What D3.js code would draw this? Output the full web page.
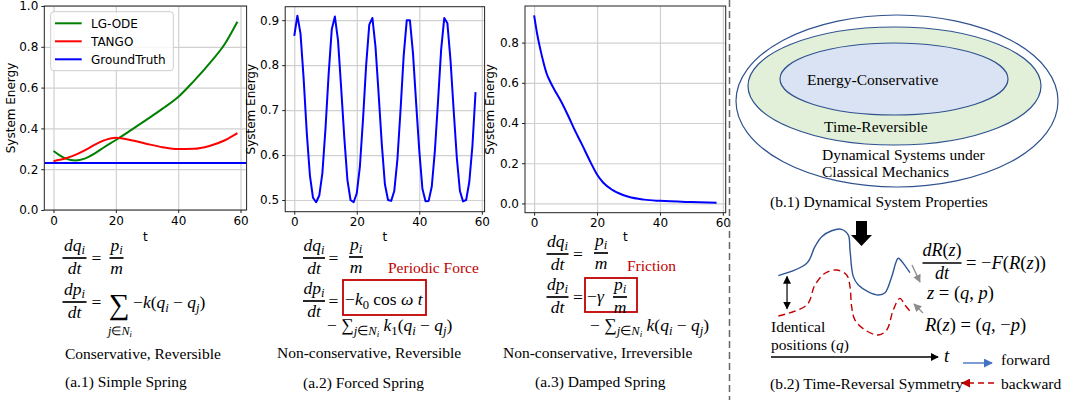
<!DOCTYPE html>
<html lang="en">
<head>
<meta charset="UTF-8">
<title>System energy and time reversal</title>
<script src="https://d3js.org/d3.v7.min.js"></script>
<style>
  body { margin: 0; background: #fff; }
  .tick text { font-family: "DejaVu Sans", sans-serif; font-size: 12px; fill: #000; }
  .tick line { stroke: #222; }
  .grid line { stroke: #d0d0d0; stroke-width: 1.2px; }
  .grid .domain, .axis .domain { display: none; }
  .serif { font-family: "Liberation Serif", "Times New Roman", serif; font-size: 15.5px; }
  .math { font-family: "Liberation Serif", "Times New Roman", serif; white-space: pre; }
  .sans { font-family: "DejaVu Sans", sans-serif; font-size: 12px; }
</style>
</head>
<body>
<svg id="fig" width="1065" height="400"></svg>
<script>
// ---- data ----
const xTicks = [0, 20, 40, 60];

// (a.1) simple spring
const timeA1 = [0, 2, 4, 7, 10, 13, 16, 20, 25, 30, 35, 40, 45, 50, 55, 59];
const energyLgOde = [0.289, 0.268, 0.252, 0.243, 0.252, 0.275, 0.305, 0.343, 0.393, 0.444, 0.497, 0.554, 0.632, 0.718, 0.815, 0.923];
const energyTango = [0.239, 0.246, 0.254, 0.270, 0.292, 0.318, 0.340, 0.354, 0.342, 0.324, 0.308, 0.299, 0.300, 0.314, 0.342, 0.377];
const energyGroundTruth = 0.23;
const yTicksA1 = [0, 0.2, 0.4, 0.6, 0.8, 1.0];
const legendLabels = ['LG-ODE', 'TANGO', 'GroundTruth'];
const legendColors = ['#008000', '#ff0000', '#0000ff'];

// (a.2) forced spring, one value per step
const timeA2 = d3.range(59);
const energyForced = [
  0.865, 0.910, 0.870, 0.770, 0.650, 0.555, 0.505, 0.495, 0.510, 0.560,
  0.660, 0.780, 0.880, 0.908, 0.855, 0.750, 0.640, 0.545, 0.500, 0.495,
  0.515, 0.575, 0.680, 0.800, 0.890, 0.905, 0.840, 0.735, 0.625, 0.535,
  0.500, 0.498, 0.520, 0.590, 0.700, 0.820, 0.900, 0.900, 0.825, 0.715,
  0.610, 0.525, 0.497, 0.498, 0.530, 0.610, 0.720, 0.835, 0.905, 0.893,
  0.810, 0.700, 0.595, 0.520, 0.497, 0.500, 0.540, 0.620, 0.740];
const yTicksA2 = [0.5, 0.6, 0.7, 0.8, 0.9];

// (a.3) damped spring
const timeA3 = [0, 1, 2, 3, 4, 5, 7, 9, 11, 13, 15, 18, 20, 22, 25, 30, 35, 40, 50, 58];
const energyDamped = [0.935, 0.840, 0.765, 0.700, 0.645, 0.609, 0.551, 0.495, 0.430, 0.362, 0.300, 0.203, 0.144, 0.103, 0.066, 0.033, 0.019, 0.013, 0.007, 0.004];
const yTicksA3 = [0, 0.2, 0.4, 0.6, 0.8];

// (b.2) sketch of a trajectory and its time reversal, [t, q] in sketch units
const forwardPath = [[4.4, 58.1], [21.4, 66.9], [26.3, 78.8], [30.4, 85.9], [36.3, 90.2], [42.3, 91.2], [46.3, 87.1], [47.3, 76.4], [49.3, 57.4], [52.3, 51.4], [58.3, 46.6], [64.3, 44.3], [68.3, 45.9], [72.3, 57.4], [76.2, 70.5], [79.2, 66.9], [83.2, 60.2]];
const backwardPath = [[4.4, 29.3], [21.4, 37.1], [26.3, 51.4], [32.3, 59.8], [39.3, 62.1], [45.3, 58.6], [47.3, 50.2], [48.3, 35.9], [50.3, 26.4], [56.3, 19.3], [64.3, 15.7], [69.3, 19.3], [73.2, 33.6], [77.2, 41.9], [80.2, 37.1], [84.3, 31.2]];

const svg = d3.select('#fig');
const defs = svg.append('defs');

function marker(id, color, size) {
  defs.append('marker').attr('id', id)
    .attr('viewBox', '0 0 10 10').attr('refX', 9).attr('refY', 5)
    .attr('markerWidth', size).attr('markerHeight', size)
    .attr('markerUnits', 'userSpaceOnUse')
    .attr('orient', 'auto-start-reverse')
    .append('path').attr('d', 'M0,0 L10,5 L0,10 z').attr('fill', color);
}
marker('arBlack', '#000', 8);
marker('arGray', '#8c8c8c', 8);
marker('arBlue', '#4472c4', 9);
marker('arRed', '#c00000', 9);

// ---- matplotlib-like panel ----
function panel(p) {
  const x = d3.scaleLinear().domain(p.xDom).range([p.left, p.right]);
  const y = d3.scaleLinear().domain(p.yDom).range([p.bottom, p.top]);
  const g = svg.append('g');
  const h = p.bottom - p.top, w = p.right - p.left;

  g.append('g').attr('class', 'grid').attr('transform', `translate(0,${p.bottom})`)
    .call(d3.axisBottom(x).tickValues(xTicks).tickSize(-h).tickFormat(''));
  g.append('g').attr('class', 'grid').attr('transform', `translate(${p.left},0)`)
    .call(d3.axisLeft(y).tickValues(p.yTicks).tickSize(-w).tickFormat(''));

  const clipId = 'clip' + Math.round(p.left);
  defs.append('clipPath').attr('id', clipId).append('rect')
    .attr('x', p.left).attr('y', p.top).attr('width', w).attr('height', h);
  const plot = g.append('g').attr('clip-path', `url(#${clipId})`);

  g.append('rect').attr('x', p.left).attr('y', p.top).attr('width', w).attr('height', h)
    .attr('fill', 'none').attr('stroke', '#222').attr('stroke-width', 1);

  g.append('g').attr('class', 'axis').attr('transform', `translate(0,${p.bottom})`)
    .call(d3.axisBottom(x).tickValues(xTicks).tickSize(3).tickPadding(3).tickFormat(d3.format('d')));
  g.append('g').attr('class', 'axis').attr('transform', `translate(${p.left},0)`)
    .call(d3.axisLeft(y).tickValues(p.yTicks).tickSize(3).tickPadding(3).tickFormat(d3.format('.1f')));

  g.append('text').attr('class', 'sans')
    .attr('transform', `translate(${p.yLabelX},${(p.top + p.bottom) / 2}) rotate(-90)`)
    .attr('text-anchor', 'middle').text('System Energy');
  g.append('text').attr('class', 'sans').attr('x', (p.left + p.right) / 2).attr('y', 241)
    .attr('text-anchor', 'middle').text('t');
  return { x, y, plot };
}

function drawLine(pn, ts, vs, color, curve) {
  pn.plot.append('path')
    .datum(ts.map((t, i) => [t, vs[i]]))
    .attr('fill', 'none').attr('stroke', color).attr('stroke-width', 2)
    .attr('stroke-linejoin', 'round')
    .attr('d', d3.line().x(d => pn.x(d[0])).y(d => pn.y(d[1])).curve(curve));
}

// (a.1)
const pA1 = panel({ left: 44.3, right: 246.6, top: 6, bottom: 210, xDom: [-2.95, 61.95], yDom: [0, 1], yTicks: yTicksA1, yLabelX: 15 });
drawLine(pA1, timeA1, energyLgOde, legendColors[0], d3.curveMonotoneX);
drawLine(pA1, timeA1, energyTango, legendColors[1], d3.curveMonotoneX);
drawLine(pA1, pA1.x.domain(), [energyGroundTruth, energyGroundTruth], legendColors[2], d3.curveLinear);

const leg = svg.append('g');
leg.append('rect').attr('x', 50.7).attr('y', 11.7).attr('width', 122.6).attr('height', 59)
  .attr('rx', 3).attr('fill', '#fff').attr('fill-opacity', 0.8).attr('stroke', '#ccc');
legendLabels.forEach((lab, i) => {
  const ly = 23.3 + i * 18;
  leg.append('line').attr('x1', 55).attr('x2', 81.7).attr('y1', ly).attr('y2', ly)
    .attr('stroke', legendColors[i]).attr('stroke-width', 2);
  leg.append('text').attr('class', 'sans').attr('x', 91).attr('y', ly).attr('dy', '0.36em').text(lab);
});

// (a.2)
const pA2 = panel({ left: 285.2, right: 484.6, top: 6.7, bottom: 211.7, xDom: [-2.9, 60.9], yDom: [0.474, 0.930], yTicks: yTicksA2, yLabelX: 255 });
drawLine(pA2, timeA2, energyForced, '#0000ff', d3.curveLinear);

// (a.3)
const pA3 = panel({ left: 525, right: 725.7, top: 6, bottom: 212.7, xDom: [-2.9, 60.9], yDom: [-0.046, 0.982], yTicks: yTicksA3, yLabelX: 494 });
drawLine(pA3, timeA3, energyDamped, '#0000ff', d3.curveMonotoneX);

// divider
svg.append('line').attr('x1', 729.5).attr('x2', 729.5).attr('y1', 0).attr('y2', 400)
  .attr('stroke', '#666').attr('stroke-width', 1.5).attr('stroke-dasharray', '7,4');

// ---- math helpers ----
function runs(str, level) {
  const out = [];
  let i = 0;
  while (i < str.length) {
    const c = str[i];
    if (c === '_') {
      let sub;
      if (str[i + 1] === '{') { const j = str.indexOf('}', i); sub = str.slice(i + 2, j); i = j + 1; }
      else { sub = str[i + 1]; i += 2; }
      out.push(...runs(sub, level + 1));
    } else if (c === '[') {
      const j = str.indexOf(']', i);
      out.push({ t: str.slice(i + 1, j), it: false, lv: level }); i = j + 1;
    } else {
      out.push({ t: c, it: /[A-Za-zγω]/.test(c), lv: level }); i++;
    }
  }
  return out;
}

function math(x, y, str, fs, anchor, color, subShift) {
  const t = svg.append('text').attr('class', 'math').attr('x', x).attr('y', y)
    .attr('font-size', fs).attr('text-anchor', anchor || 'start').attr('fill', color || '#000');
  const s1 = subShift === undefined ? 0.22 : subShift;
  let cur = 0;
  runs(str, 0).forEach(r => {
    const shift = r.lv === 0 ? 0 : fs * s1 + (r.lv - 1) * fs * 0.14;
    t.append('tspan').text(r.t)
      .attr('font-style', r.it ? 'italic' : 'normal')
      .attr('font-size', fs * Math.pow(0.72, r.lv))
      .attr('dy', shift - cur);
    cur = shift;
  });
  return t;
}

// numerator sits a little higher with a shallow subscript so it clears the bar
function frac(cx, bar, w, num, den, fs) {
  math(cx, bar - 7, num, fs, 'middle', '#000', 0.17);
  svg.append('line').attr('x1', cx - w / 2).attr('x2', cx + w / 2).attr('y1', bar).attr('y2', bar)
    .attr('stroke', '#000').attr('stroke-width', 1.7);
  math(cx, bar + 15.5, den, fs, 'middle');
}

function label(x, y, str, color) {
  return svg.append('text').attr('class', 'serif').attr('x', x).attr('y', y).attr('fill', color || '#000').text(str);
}

function box(x0, y0, x1, y1) {
  svg.append('rect').attr('x', x0).attr('y', y0).attr('width', x1 - x0).attr('height', y1 - y0)
    .attr('fill', 'none').attr('stroke', '#c00000').attr('stroke-width', 1.8);
}

const FS = 17.5;

// (a.1) equations
frac(74.5, 258, 24, 'dq_i', 'dt', FS);
math(91.5, 264, '=', FS);
frac(116.5, 258, 14, 'p_i', 'm', FS);
frac(74.5, 302, 24, 'dp_i', 'dt', FS);
math(91.5, 308, '=', FS);
math(109, 314, '∑', 29);
math(120, 331, '_{j∈N_i}', 17, 'middle');
math(133, 308, '−k(q_i − q_j)', FS);
label(65, 359, 'Conservative, Reversible');
label(65, 387, '(a.1) Simple Spring');

// (a.2) equations
frac(314, 258, 22, 'dq_i', 'dt', FS);
math(328.5, 264, '=', FS);
frac(356, 257, 14, 'p_i', 'm', FS);
label(388, 273, 'Periodic Force', '#c00000');
frac(314, 301, 22, 'dp_i', 'dt', FS);
math(328.5, 307, '=', FS);
box(343, 280, 426, 315);
math(345, 305, '−k_0 [cos] ω t', FS);
math(327, 331, '− ∑_{j∈N_i} k_1(q_i − q_j)', FS);
label(277, 358, 'Non-conservative, Reversible');
label(303, 388, '(a.2) Forced Spring');

// (a.3) equations
frac(557.5, 254, 22, 'dq_i', 'dt', FS);
math(573, 260, '=', FS);
frac(601, 253, 14, 'p_i', 'm', FS);
label(627, 271, 'Friction', '#c00000');
frac(557.5, 297, 22, 'dp_i', 'dt', FS);
math(573, 303, '=', FS);
box(585, 278, 637, 312);
math(587, 302, '−γ', FS);
frac(620, 297, 14, 'p_i', 'm', FS);
math(590, 331, '− ∑_{j∈N_i} k(q_i − q_j)', FS);
label(503, 358, 'Non-conservative, Irreversible');
label(535, 387, '(a.3) Damped Spring');

// ---- (b.1) nested sets ----
const setStroke = '#2f528f';
svg.append('ellipse').attr('cx', 897).attr('cy', 101).attr('rx', 161).attr('ry', 86)
  .attr('fill', '#fff').attr('stroke', setStroke).attr('stroke-width', 1.2);
svg.append('ellipse').attr('cx', 894.5).attr('cy', 86).attr('rx', 146.5).attr('ry', 59)
  .attr('fill', '#e2f0d9').attr('stroke', setStroke).attr('stroke-width', 1.2);
svg.append('ellipse').attr('cx', 894).attr('cy', 79).attr('rx', 114).attr('ry', 36)
  .attr('fill', '#dae3f3').attr('stroke', setStroke).attr('stroke-width', 1.2);
label(807, 85, 'Energy-Conservative');
label(824, 132, 'Time-Reversible');
label(822, 160, 'Dynamical Systems under');
label(822, 177, 'Classical Mechanics');
label(770, 207, '(b.1) Dynamical System Properties');

// ---- (b.2) time reversal sketch ----
const sx = d3.scaleLinear().domain([0, 100]).range([771, 938]);
const sy = d3.scaleLinear().domain([0, 100]).range([357, 217]);
const sketch = d3.line().x(d => sx(d[0])).y(d => sy(d[1])).curve(d3.curveCatmullRom.alpha(0.5));
svg.append('path').datum(forwardPath).attr('d', sketch)
  .attr('fill', 'none').attr('stroke', '#2f5597').attr('stroke-width', 1.4);
svg.append('path').datum(backwardPath).attr('d', sketch)
  .attr('fill', 'none').attr('stroke', '#c00000').attr('stroke-width', 1.4).attr('stroke-dasharray', '7,4');

// identical positions marker
svg.append('line').attr('x1', sx(9.6)).attr('x2', sx(9.6)).attr('y1', sy(57.5)).attr('y2', sy(34.5))
  .attr('stroke', '#000').attr('stroke-width', 1.2)
  .attr('marker-start', 'url(#arBlack)').attr('marker-end', 'url(#arBlack)');
// time axis
svg.append('line').attr('x1', sx(0)).attr('x2', sx(100)).attr('y1', sy(0)).attr('y2', sy(0))
  .attr('stroke', '#000').attr('stroke-width', 1.3).attr('marker-end', 'url(#arBlack)');
math(944, 362, 't', 18.5);

// big down arrow
svg.append('path').attr('d', 'M856,221 H867 V235 H872 L861.5,246 L851,235 H856 Z').attr('fill', '#000');

// gray pointers
svg.append('line').attr('x1', 912).attr('y1', 265).attr('x2', 920).attr('y2', 282)
  .attr('stroke', '#8c8c8c').attr('stroke-width', 1.3).attr('marker-end', 'url(#arGray)');
svg.append('line').attr('x1', 923).attr('y1', 313).attr('x2', 914).attr('y2', 304)
  .attr('stroke', '#8c8c8c').attr('stroke-width', 1.3).attr('marker-end', 'url(#arGray)');

// equations
frac(942, 263, 39, 'dR(z)', 'dt', 18);
math(966, 269, '= −F(R(z))', 18.5);
math(927, 299, 'z = (q, p)', 18.5);
math(925, 331, 'R(z) = (q, −p)', 18.5);
label(771, 332, 'Identical');
const pos = label(771, 350, 'positions (');
pos.append('tspan').attr('font-style', 'italic').text('q');
pos.append('tspan').text(')');

// legend of the sketch
svg.append('line').attr('x1', 963).attr('x2', 992).attr('y1', 363).attr('y2', 363)
  .attr('stroke', '#4472c4').attr('stroke-width', 1.4).attr('marker-end', 'url(#arBlue)');
label(1001, 365, 'forward');
svg.append('line').attr('x1', 994).attr('x2', 962).attr('y1', 383).attr('y2', 383)
  .attr('stroke', '#c00000').attr('stroke-width', 1.4).attr('stroke-dasharray', '6,4').attr('marker-end', 'url(#arRed)');
label(1001, 389, 'backward');
label(770, 389, '(b.2) Time-Reversal Symmetry');
</script>
</body>
</html>
